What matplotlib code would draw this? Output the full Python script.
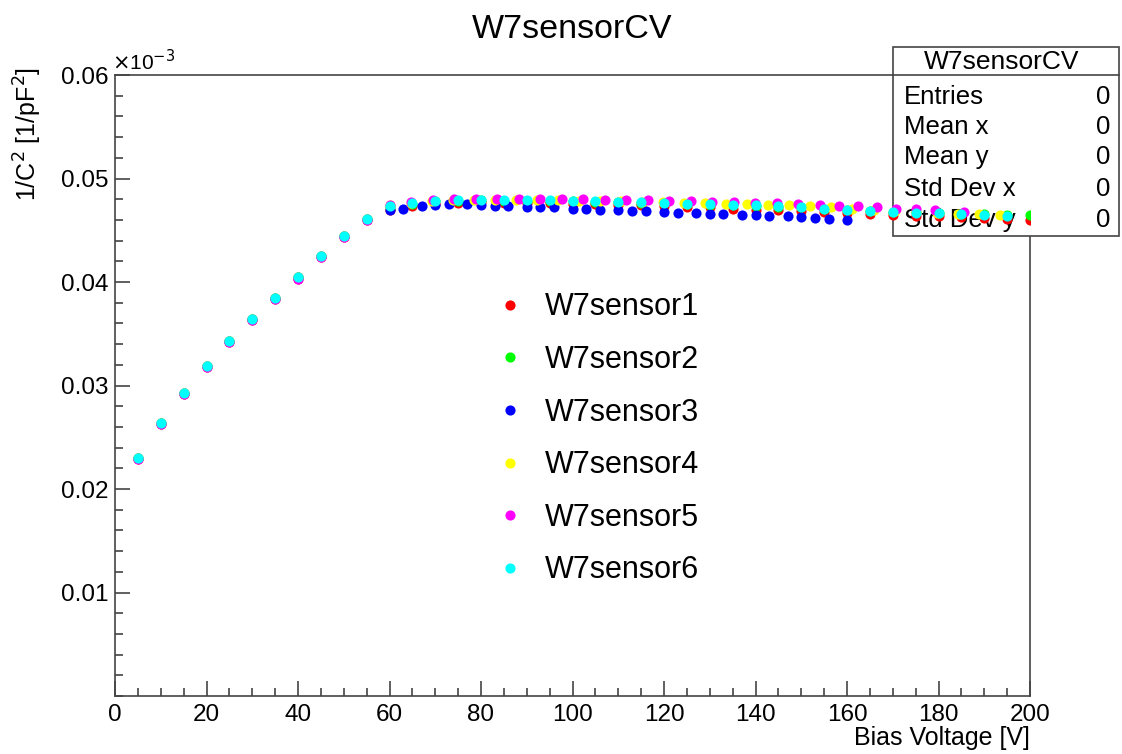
import numpy as np
import matplotlib.pyplot as plt
from matplotlib.patches import Rectangle
from matplotlib.lines import Line2D
from matplotlib.ticker import MultipleLocator

plt.rcParams['font.family'] = ['Liberation Sans', 'DejaVu Sans']

# values shown in units of 1e-3 (axis carries the x10^-3 multiplier)
ramp_v = [5, 10, 15, 20, 25, 30, 35, 40, 45, 50, 55]
ramp_c = [0.0230, 0.0264, 0.0293, 0.0319, 0.0343, 0.0364, 0.0385, 0.0405, 0.0425, 0.0444, 0.0461]
ramp_c_low = [0.0229, 0.0263, 0.0292, 0.0318, 0.0342, 0.0363, 0.0384, 0.0403, 0.0424, 0.0443, 0.0460]

grid5 = [60, 65, 70, 75, 80, 85, 90, 95, 100, 105, 110, 115, 120, 125, 130,
         135, 140, 145, 150, 155, 160, 165, 170, 175, 180, 185, 190, 195, 200]

s1_y = [0.0470, 0.0473, 0.0475, 0.0476, 0.0477, 0.0476, 0.0476, 0.0476, 0.0475, 0.0475,
        0.0474, 0.0474, 0.0473, 0.0472, 0.0472, 0.0471, 0.0470, 0.0470, 0.0469, 0.0468,
        0.0467, 0.0466, 0.0465, 0.0464, 0.0464, 0.0463, 0.0462, 0.0461, 0.0460]

s2_y = [0.0472, 0.0475, 0.0478, 0.0478, 0.0479, 0.0478, 0.0478, 0.0478, 0.0478, 0.0477,
        0.0477, 0.0476, 0.0476, 0.0475, 0.0474, 0.0474, 0.0473, 0.0472, 0.0472, 0.0471,
        0.0470, 0.0469, 0.0468, 0.0468, 0.0467, 0.0466, 0.0466, 0.0465, 0.0465]

s3_x = [60, 63, 67, 70, 73, 77, 80, 83, 86, 90, 93, 96, 100, 103, 106, 110,
        113, 116, 120, 123, 127, 130, 133, 137, 140, 143, 147, 150, 153, 156, 160]
s3_y = [0.0470, 0.0471, 0.0473, 0.0474, 0.0475, 0.0475, 0.0474, 0.0473, 0.0473, 0.0472,
        0.0472, 0.0472, 0.0471, 0.0471, 0.0470, 0.0470, 0.0469, 0.0469, 0.0468, 0.0467,
        0.0467, 0.0466, 0.0466, 0.0465, 0.0465, 0.0464, 0.0464, 0.0463, 0.0462, 0.0461, 0.0460]

s4_x = [60, 64.6, 69.2, 73.8, 78.4, 83, 87.6, 92.2, 96.8, 101.4, 106, 110.6, 115.2, 119.8,
        124.4, 129, 133.6, 138.2, 142.8, 147.4, 152, 156.6, 161.2, 165.8, 170.4, 175,
        179.6, 184.2, 188.8, 193.4]
s4_y = [0.0474, 0.0476, 0.0478, 0.0479, 0.0479, 0.0479, 0.0479, 0.0479, 0.0479, 0.0478,
        0.0478, 0.0478, 0.0477, 0.0477, 0.0476, 0.0476, 0.0475, 0.0475, 0.0474, 0.0474,
        0.0473, 0.0472, 0.0471, 0.0470, 0.0469, 0.0468, 0.0467, 0.0466, 0.0466, 0.0465]

s5_x = [60, 64.7, 69.4, 74.1, 78.8, 83.5, 88.2, 92.9, 97.6, 102.3, 107, 111.7, 116.4, 121.1,
        125.8, 130.5, 135.2, 139.9, 144.6, 149.3, 154, 158.2, 162.4, 166.6, 170.8, 175,
        179.2, 185.6]
s5_y = [0.0474, 0.0477, 0.0479, 0.0480, 0.0480, 0.0480, 0.0480, 0.0480, 0.0480, 0.0480,
        0.0479, 0.0479, 0.0479, 0.0478, 0.0478, 0.0477, 0.0477, 0.0476, 0.0476, 0.0475,
        0.0474, 0.0473, 0.0473, 0.0472, 0.0471, 0.0471, 0.0470, 0.0468]

s6_y = [0.0473, 0.0476, 0.0478, 0.0479, 0.0479, 0.0479, 0.0479, 0.0479, 0.0478, 0.0478,
        0.0477, 0.0477, 0.0476, 0.0475, 0.0475, 0.0474, 0.0474, 0.0473, 0.0472, 0.0471,
        0.0470, 0.0469, 0.0468, 0.0467, 0.0467, 0.0466, 0.0465, 0.0464]

names = ['W7sensor1', 'W7sensor2', 'W7sensor3', 'W7sensor4', 'W7sensor5', 'W7sensor6']
colors = ['#ff0000', '#00ff00', '#0000ff', '#ffff00', '#ff00ff', '#00ffff']

series = [
    (ramp_v + grid5, ramp_c_low + s1_y),
    (ramp_v + grid5, ramp_c + s2_y),
    (ramp_v + s3_x, ramp_c + s3_y),
    (ramp_v + s4_x, ramp_c + s4_y),
    (ramp_v + s5_x, ramp_c_low + s5_y),
    (ramp_v + grid5[:-1], ramp_c + s6_y),
]

fig = plt.figure(figsize=(11.22, 7.54), dpi=100)
W, H = 1122, 754
ax = fig.add_axes([115 / W, 1 - 696 / H, 915 / W, 621 / H])

handles = []
for (xv, yv), name, col in zip(series, names, colors):
    h, = ax.plot(xv, yv, 'o', color=col, ms=7.3, mec='none', label=name, zorder=3)
    handles.append(h)

ax.set_xlim(0, 200)
ax.set_ylim(0, 0.06)
ax.xaxis.set_major_locator(MultipleLocator(20))
ax.xaxis.set_minor_locator(MultipleLocator(5))
ax.set_yticks([0.01, 0.02, 0.03, 0.04, 0.05, 0.06])
ax.set_yticklabels(['0.01', '0.02', '0.03', '0.04', '0.05', '0.06'])
ax.yaxis.set_minor_locator(MultipleLocator(0.002))
ax.tick_params(which='both', direction='in', top=False, right=False,
               labelsize=17.5, color='#444444', width=1.2)
ax.tick_params(axis='x', which='major', length=11, pad=6)
ax.tick_params(axis='x', which='minor', length=6)
ax.tick_params(axis='y', which='major', length=11, pad=5)
ax.tick_params(axis='y', which='minor', length=6)
for sp in ax.spines.values():
    sp.set_color('#444444')
    sp.set_linewidth(1.2)

fig.text(112 / W, 1 - 62 / H, r'$\times$10$^{-3}$', fontsize=15, ha='left', va='center')
fig.text(572 / W, 1 - 30 / H, 'W7sensorCV', fontsize=24.5, ha='center', va='center')
fig.text(1030 / W, 1 - 738 / H, 'Bias Voltage [V]', fontsize=18, ha='right', va='center')
fig.text(28 / W, 1 - 67 / H, r'1/C$^2$ [1/pF$^2$]', fontsize=18, rotation=90,
         ha='center', va='top')

leg = ax.legend(handles=handles, loc='center', bbox_to_anchor=(0.528, 0.414),
                frameon=False, fontsize=22, labelspacing=0.74, handlelength=0.8,
                handletextpad=0.75, markerscale=1.0)

# stats box (white, under the data points)
bx0, bx1, by0, by1 = 893, 1119, 47, 236
box = Rectangle((bx0 / W, 1 - by1 / H), (bx1 - bx0) / W, (by1 - by0) / H,
                transform=fig.transFigure, facecolor='white', edgecolor='#444444',
                lw=1.2, zorder=2.6, clip_on=False)
ax.add_artist(box)
sep = Line2D([bx0 / W, bx1 / W], [1 - 75 / H, 1 - 75 / H], transform=fig.transFigure,
             color='#444444', lw=1.2, zorder=1)
fig.add_artist(sep)
ax.text((bx0 + bx1) / 2 / W - 0.004, 1 - 62 / H, 'W7sensorCV', transform=fig.transFigure,
        fontsize=19, ha='center', va='center', zorder=2.8)
stat_names = ['Entries', 'Mean x', 'Mean y', 'Std Dev x', 'Std Dev y']
stat_vals = ['0', '0', '0', '0', '0']
stat_rows = [97, 127, 157, 189, 220]
for nm, vl, yy in zip(stat_names, stat_vals, stat_rows):
    ax.text(904 / W, 1 - yy / H, nm, transform=fig.transFigure, fontsize=18.5,
            ha='left', va='center', zorder=2.8)
    ax.text(1110 / W, 1 - yy / H, vl, transform=fig.transFigure, fontsize=18.5,
            ha='right', va='center', zorder=2.8)

fig.savefig('out.png', dpi=100)
